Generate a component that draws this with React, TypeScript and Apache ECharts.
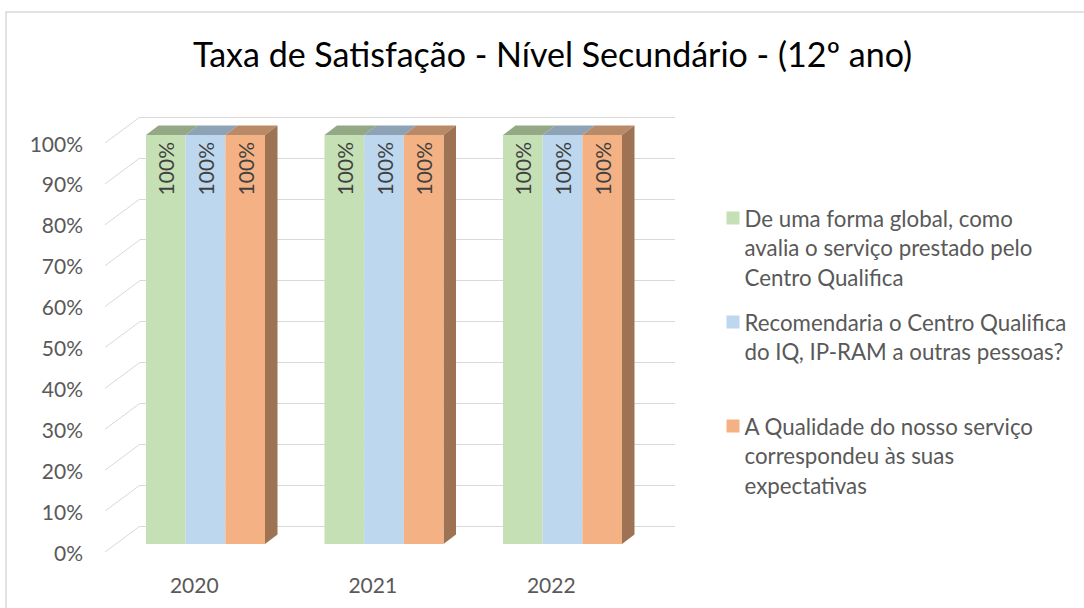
import React, { useEffect, useRef } from "react";
import * as echarts from "echarts";

const titleText = "Taxa de Satisfação - Nível Secundário - (12º ano)";
const categories = ["2020", "2021", "2022"];
const seriesNames = [
  "De uma forma global, como avalia o serviço prestado pelo Centro Qualifica",
  "Recomendaria o Centro Qualifica do IQ, IP-RAM a outras pessoas?",
  "A Qualidade do nosso serviço correspondeu às suas expectativas",
];
const legendWrapped = [
  "De uma forma global, como\navalia o serviço prestado pelo\nCentro Qualifica",
  "Recomendaria o Centro Qualifica\ndo IQ, IP-RAM a outras pessoas?",
  "A Qualidade do nosso serviço\ncorrespondeu às suas\nexpectativas",
];
const valuesGlobal = [1, 1, 1];
const valuesRecomenda = [1, 1, 1];
const valuesQualidade = [1, 1, 1];
const yTicks = [0, 0.1, 0.2, 0.3, 0.4, 0.5, 0.6, 0.7, 0.8, 0.9, 1];

const frontColors = ["#c5e0b4", "#bdd7ee", "#f4b183"];
const topColors = ["#94a886", "#8da2b4", "#b98a68"];
const sideColor = "#9e7354";
const FONT = "Lato";
const DX = 12.5;
const DY = -9.5;
const LH = 29.5;

export default function App() {
  const ref = useRef<HTMLDivElement>(null);
  useEffect(() => {
    if (!ref.current) return;
    const chart = echarts.init(ref.current, undefined, { renderer: "svg" });
    const allValues = [valuesGlobal, valuesRecomenda, valuesQualidade];
    const pct = (v: number) => Math.round(v * 100) + "%";

    const faceData: number[][] = [];
    allValues.forEach((vals, s) => vals.forEach((v, i) => faceData.push([i, v, s])));

    const iconTops = [211.5, 315.5, 419.5];
    const legends = seriesNames.map((name, k) => {
      const n = legendWrapped[k].split("\n").length;
      const boxTopOffset = 6.5 - ((2 * n - 1) * LH) / 2;
      return {
        data: [name],
        orient: "vertical",
        left: 726.5,
        top: iconTops[k] + boxTopOffset,
        padding: 0,
        itemGap: 0,
        itemWidth: 13,
        itemHeight: 13,
        icon: "rect",
        selectedMode: false,
        formatter: () => "{sp| }\n" + legendWrapped[k],
        textStyle: {
          fontFamily: FONT,
          fontSize: 22.3,
          color: "#595959",
          lineHeight: LH,
          rich: {
            sp: { fontSize: 2, lineHeight: (n - 1) * LH },
          },
        },
      };
    });

    const option: any = {
      animation: false,
      backgroundColor: "#ffffff",
      title: {
        text: titleText,
        left: 188,
        top: 31,
        textStyle: { fontFamily: FONT, fontSize: 34, fontWeight: "normal", color: "#000000" },
      },
      graphic: [
        {
          type: "rect",
          silent: true,
          z: -10,
          shape: { x: 6, y: 12, width: 1200, height: 700 },
          style: { fill: "none", stroke: "#d9d9d9", lineWidth: 1.5 },
        },
      ],
      legend: legends,
      grid: [
        { left: 140, top: 117, width: 535, height: 409 },
        { left: 105, top: 143, width: 535.5, height: 409 },
        { left: 116.25, top: 135, width: 535.5, height: 409 },
      ],
      xAxis: [
        { gridIndex: 0, type: "value", min: 0, max: 1, show: false },
        {
          gridIndex: 1,
          type: "category",
          data: categories,
          axisLine: { show: false },
          axisTick: { show: false },
          axisLabel: { margin: 22, fontFamily: FONT, fontSize: 21, color: "#595959" },
        },
        { gridIndex: 2, type: "category", data: categories, show: false },
      ],
      yAxis: [
        {
          gridIndex: 0,
          type: "value",
          min: 0,
          max: 1,
          interval: 0.1,
          axisLine: { show: false },
          axisTick: { show: false },
          axisLabel: { show: false },
          splitLine: { show: true, lineStyle: { color: "#d9d9d9", width: 1 } },
        },
        {
          gridIndex: 1,
          type: "value",
          min: 0,
          max: 1,
          interval: 0.1,
          axisLine: { show: false },
          axisTick: { show: false },
          splitLine: { show: false },
          axisLabel: {
            margin: 22,
            fontFamily: FONT,
            fontSize: 21,
            color: "#595959",
            formatter: (v: number) => pct(v),
          },
        },
        { gridIndex: 2, type: "value", min: 0, max: 1, show: false },
      ],
      series: [
        {
          type: "custom",
          name: "diagonals",
          xAxisIndex: 0,
          yAxisIndex: 0,
          silent: true,
          z: 1,
          data: yTicks.map((v) => [0, v]),
          renderItem: (_p: any, api: any) => {
            const p = api.coord([0, api.value(1)]);
            return {
              type: "line",
              shape: { x1: p[0] - 35, y1: p[1] + 26, x2: p[0], y2: p[1] },
              style: { stroke: "#d9d9d9", lineWidth: 1 },
            };
          },
        },
        ...seriesNames.map((name, s) => ({
          type: "bar",
          name,
          xAxisIndex: 2,
          yAxisIndex: 2,
          data: allValues[s],
          barGap: "0%",
          barCategoryGap: "33.333%",
          z: 3,
          itemStyle: { color: frontColors[s] },
          label: {
            show: true,
            position: "insideTop",
            distance: 7,
            rotate: 90,
            align: "right",
            verticalAlign: "middle",
            fontFamily: FONT,
            fontSize: 21,
            color: "#404040",
            formatter: (p: any) => pct(p.value),
          },
        })),
        {
          type: "custom",
          name: "faces",
          xAxisIndex: 2,
          yAxisIndex: 2,
          silent: true,
          z: 2,
          data: faceData,
          renderItem: (_p: any, api: any) => {
            const i = api.value(0);
            const v = api.value(1);
            const s = api.value(2);
            const top = api.coord([i, v]);
            const base = api.coord([i, 0]);
            const band = api.size([1, 0])[0];
            const group = (band * 2) / 3;
            const bw = group / 3;
            const L = top[0] - group / 2 + s * bw;
            const R = L + bw;
            const children: any[] = [
              {
                type: "polygon",
                shape: {
                  points: [
                    [L, top[1]],
                    [L + DX, top[1] + DY],
                    [R + DX, top[1] + DY],
                    [R, top[1]],
                  ],
                },
                style: { fill: topColors[s] },
              },
            ];
            if (s === 2) {
              children.push({
                type: "polygon",
                shape: {
                  points: [
                    [R, top[1]],
                    [R + DX, top[1] + DY],
                    [R + DX, base[1] + DY],
                    [R, base[1]],
                  ],
                },
                style: { fill: sideColor },
              });
            }
            return { type: "group", children };
          },
        },
      ],
    };
    chart.setOption(option);
    return () => chart.dispose();
  }, []);
  return (
    <div
      ref={ref}
      style={{ position: "fixed", left: 0, top: 0, width: 1084, height: 608, background: "#fff" }}
    />
  );
}
